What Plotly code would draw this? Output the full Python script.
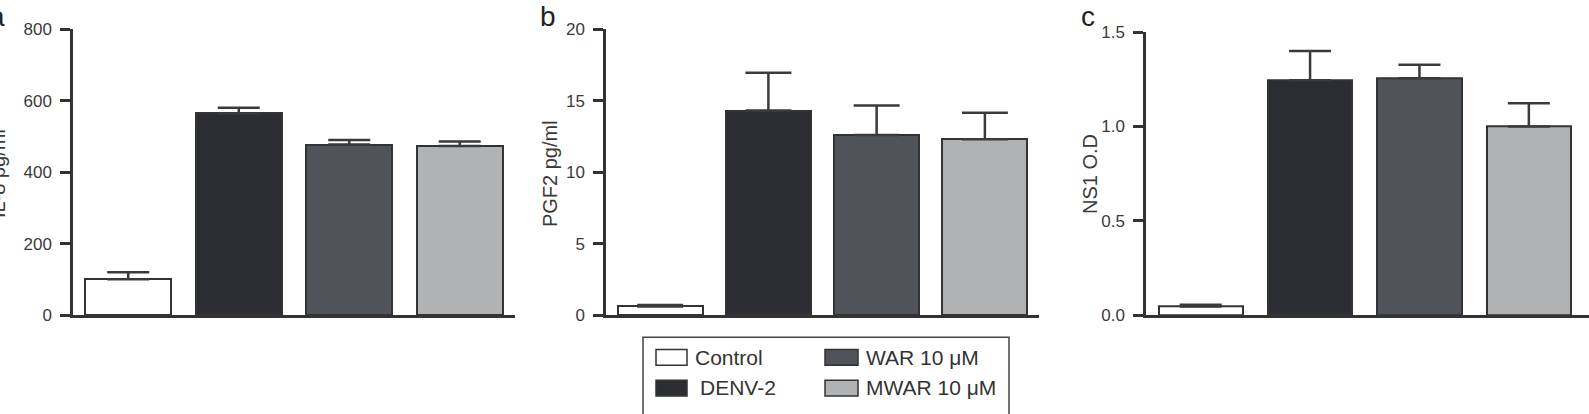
import plotly.graph_objects as go

# ---------------- data ----------------
categories = ["Control", "DENV-2", "WAR 10 μM", "MWAR 10 μM"]
colors = ["#ffffff", "#2b2d32", "#505359", "#b1b2b4"]

il8_values = [101, 564, 477, 473]
il8_errors = [19, 16, 13, 13]

pgf2_values = [0.62, 14.3, 12.6, 12.3]
pgf2_errors = [0.10, 2.65, 2.05, 1.85]

ns1_values = [0.047, 1.245, 1.256, 1.0]
ns1_errors = [0.009, 0.155, 0.071, 0.124]

panel_letters = ["a", "b", "c"]
y_titles = ["IL-8 pg/ml", "PGF2 pg/ml", "NS1 O.D"]
y_ticks = [[0, 200, 400, 600, 800], [0, 5, 10, 15, 20], [0, 0.5, 1.0, 1.5]]
y_ranges = [[0, 800], [0, 20], [0, 1.5]]
tick_formats = ["d", "d", ".1f"]

# ---------------- layout geometry (pixels) ----------------
W, H = 1589, 414
FONT = "Liberation Sans, Arial, Helvetica, sans-serif"
DARK = "#333333"


def px(x):
    return x / W


def py(y):
    return 1 - y / H


panels = [
    dict(x0=73, x1=515, ytop=21, xr=[-0.5, 3.5], bw=0.78, cap=21, title_x=-2, letter_x=-3),
    dict(x0=606, x1=1039, ytop=21, xr=[-0.5, 3.5], bw=0.785, cap=23, title_x=550, letter_x=548),
    dict(x0=1146, x1=1589, ytop=24.3, xr=[-0.5, 3.55], bw=0.77, cap=21, title_x=1090, letter_x=1088),
]
ybottom = 321

datasets = [
    (il8_values, il8_errors),
    (pgf2_values, pgf2_errors),
    (ns1_values, ns1_errors),
]

fig = go.Figure()
layout = dict(
    width=W, height=H,
    margin=dict(l=0, r=0, t=0, b=0),
    paper_bgcolor="white", plot_bgcolor="white",
    showlegend=False,
    font=dict(family=FONT, color=DARK),
    bargap=0,
)

annotations = []
shapes = []

for i, (p, (vals, errs)) in enumerate(zip(panels, datasets)):
    n = "" if i == 0 else str(i + 1)
    xa, ya = "x" + n, "y" + n
    fig.add_trace(go.Bar(
        x=categories, y=vals, width=p["bw"],
        marker=dict(color=colors, line=dict(color=DARK, width=2)),
        error_y=dict(type="data", array=errs, arrayminus=[0] * len(errs),
                     symmetric=False, color="#3a3a3a", thickness=2.5, width=p["cap"]),
        xaxis=xa, yaxis=ya,
    ))
    layout["xaxis" + n] = dict(
        domain=[px(p["x0"]), px(p["x1"])], anchor=ya,
        type="category", range=p["xr"], showticklabels=False, ticks="",
        showline=True, linecolor=DARK, linewidth=2.5, showgrid=False, zeroline=False,
        fixedrange=True,
    )
    layout["yaxis" + n] = dict(
        domain=[py(ybottom), py(p["ytop"])], anchor=xa,
        range=y_ranges[i], tickvals=y_ticks[i], tickformat=tick_formats[i],
        ticks="outside", ticklen=10, tickwidth=2.5, tickcolor=DARK,
        showline=True, linecolor=DARK, linewidth=2.5, showgrid=False, zeroline=False,
        tickfont=dict(size=17, color="#3a3a3a", family=FONT), ticklabelstandoff=5,
    )
    annotations.append(dict(
        text=y_titles[i], textangle=-90, xref="paper", yref="paper",
        x=px(p["title_x"]), y=py(173), xanchor="center", yanchor="middle",
        showarrow=False, font=dict(size=20, color="#3a3a3a", family=FONT),
    ))
    annotations.append(dict(
        text=panel_letters[i], xref="paper", yref="paper",
        x=px(p["letter_x"]), y=py(23), xanchor="center", yanchor="bottom",
        yshift=-3, showarrow=False, font=dict(size=28, color="#222222", family=FONT),
    ))

# ---------------- manual legend ----------------
shapes.append(dict(type="rect", xref="paper", yref="paper",
                   x0=px(643), x1=px(1009), y0=py(430), y1=py(344),
                   line=dict(color="#444444", width=1.5), fillcolor="rgba(0,0,0,0)"))
legend_slots = [(656, 357, 693), (656, 389, 698), (825, 357, 864), (825, 389, 864)]
for (sx, sy, tx), name, col in zip(legend_slots, categories, colors):
    sw = 31 if sx == 656 else 33
    shapes.append(dict(type="rect", xref="paper", yref="paper",
                       x0=px(sx), x1=px(sx + sw), y0=py(sy + 16.5), y1=py(sy),
                       line=dict(color=DARK, width=1.5), fillcolor=col))
    annotations.append(dict(
        text=name, xref="paper", yref="paper", x=px(tx), y=py(sy + 8),
        xanchor="left", yanchor="middle", showarrow=False,
        font=dict(size=21, color="#333333", family=FONT),
    ))

layout["annotations"] = annotations
layout["shapes"] = shapes
fig.update_layout(**layout)
fig.write_html("out.html")
